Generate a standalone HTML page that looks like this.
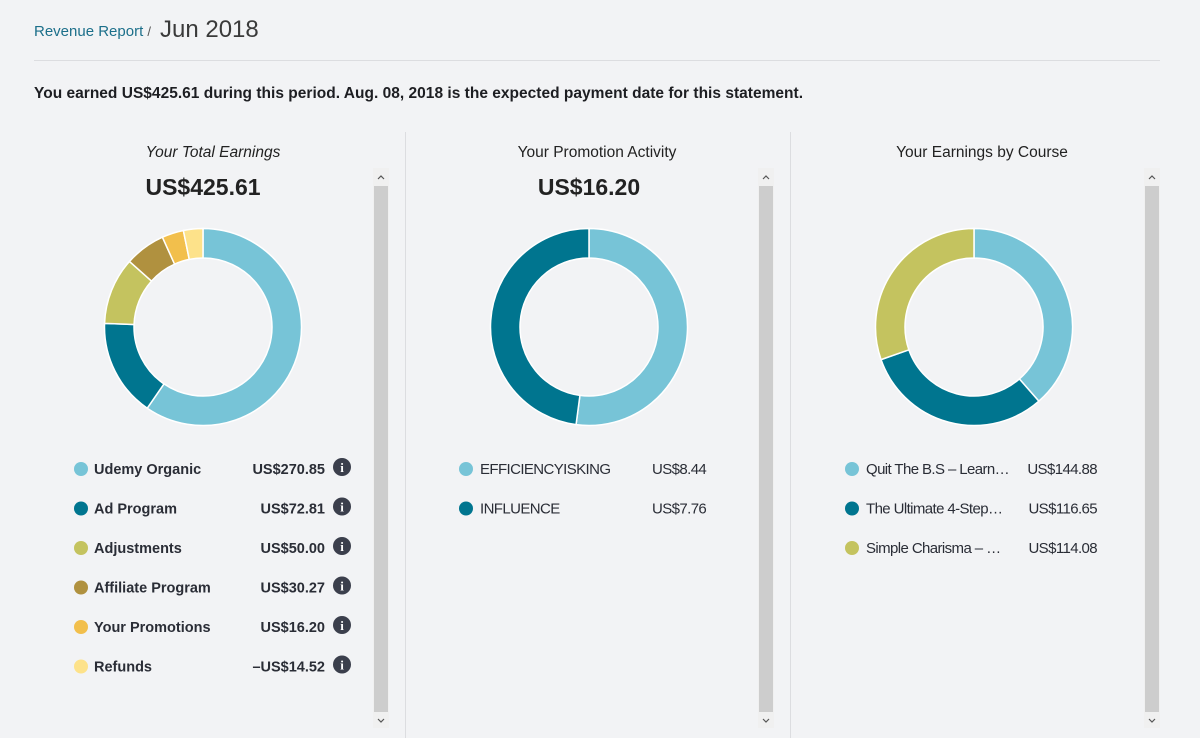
<!DOCTYPE html>
<html><head><meta charset="utf-8"><style>
html,body{margin:0;padding:0;background:#f2f3f5;width:1200px;height:738px;overflow:hidden;font-family:"Liberation Sans","DejaVu Sans",sans-serif;}
svg{display:block}
</style></head><body>
<svg id="s" width="1200" height="738" viewBox="0 0 1200 738">
<text x="34" y="36" font-size="15" fill="#1c6f8a">Revenue Report <tspan fill="#555" font-size="13">/</tspan></text>
<text x="160" y="37" font-size="24" fill="#3a3a3a">Jun 2018</text>
<line x1="34" y1="60.5" x2="1160" y2="60.5" stroke="#dcdde0"/>
<text x="34" y="98" font-size="15.5" font-weight="bold" fill="#1d1e22" textLength="769">You earned US$425.61 during this period. Aug. 08, 2018 is the expected payment date for this statement.</text>
<line x1="405.5" y1="132" x2="405.5" y2="738" stroke="#dcdde0"/>
<line x1="790.5" y1="132" x2="790.5" y2="738" stroke="#dcdde0"/>
<text x="213" y="157" text-anchor="middle" font-size="15.5" font-style="italic" fill="#222">Your Total Earnings</text>
<text x="203" y="195" text-anchor="middle" font-size="23" font-weight="bold" fill="#222">US$425.61</text>
<text x="597" y="157" text-anchor="middle" font-size="15.5" fill="#222">Your Promotion Activity</text>
<text x="589" y="195" text-anchor="middle" font-size="23" font-weight="bold" fill="#222">US$16.20</text>
<text x="982" y="157" text-anchor="middle" font-size="15.5" fill="#222">Your Earnings by Course</text>
<g id="g"></g>
</svg>
<script>
const totalLabels=["Udemy Organic","Ad Program","Adjustments","Affiliate Program","Your Promotions","Refunds"];
const totalValues=[270.85,72.81,50.00,30.27,16.20,14.52];
const totalPrinted=["US$270.85","US$72.81","US$50.00","US$30.27","US$16.20","\u2013US$14.52"];
const promoLabels=["EFFICIENCYISKING","INFLUENCE"];
const promoValues=[8.44,7.76];
const promoPrinted=["US$8.44","US$7.76"];
const courseLabels=["Quit The B.S \u2013 Learn\u2026","The Ultimate 4-Step\u2026","Simple Charisma \u2013 \u2026"];
const courseValues=[144.88,116.65,114.08];
const coursePrinted=["US$144.88","US$116.65","US$114.08"];
const colors6=["#77c4d7","#00758f","#c4c35f","#b0913f","#f2bf4c","#fde28a"];
const colors3=["#77c4d7","#00758f","#c4c35f"];
const NS="http://www.w3.org/2000/svg";
const g=document.getElementById('g');
function mk(t,a,p){const e=document.createElementNS(NS,t);for(const k in a)e.setAttribute(k,a[k]);(p||g).appendChild(e);return e;}
function donut(cx,cy,ro,ri,vals,cols,name){
  const tot=vals.reduce((a,b)=>a+b,0);let a0=0;
  vals.forEach((v,i)=>{
    const a1=a0+v/tot*2*Math.PI;
    const pt=(r,a)=>[cx+r*Math.sin(a),cy-r*Math.cos(a)];
    const [x1,y1]=pt(ro,a0),[x2,y2]=pt(ro,a1),[x3,y3]=pt(ri,a1),[x4,y4]=pt(ri,a0);
    const lg=(a1-a0)>Math.PI?1:0;
    const p=mk('path',{d:`M${x1},${y1}A${ro},${ro} 0 ${lg} 1 ${x2},${y2}L${x3},${y3}A${ri},${ri} 0 ${lg} 0 ${x4},${y4}Z`,fill:cols[i],stroke:"#fff","stroke-width":1.5});
    
    
    a0=a1;
  });
}
donut(203,327,98.5,69,totalValues,colors6,'total-earnings');
donut(589,327,98.5,69,promoValues,colors3,'promotion');
donut(974,327,98.5,69,courseValues,colors3,'course');
function legend(labels,printed,cols,dx,lx,vx,anchor,name,info,narrow){
  labels.forEach((l,i)=>{
    const y=469+i*39.5;
    const c=mk('circle',{cx:dx,cy:y,r:7,fill:cols[i]});
    
    
    const st=narrow?{"font-size":15,"fill":"#2a2d36","letter-spacing":"-0.6"}:{"font-size":14.5,"font-weight":"bold","fill":"#2a2d36"};
    const t=mk('text',Object.assign({x:lx,y:y+5},st));t.textContent=l;
    
    
    const v=mk('text',Object.assign({x:vx,y:y+5,"text-anchor":anchor},st));v.textContent=printed[i];
    
    
    if(info){
      const ic=mk('circle',{cx:342,cy:y-2,r:9,fill:"#3b3f4c"});
      
      
      const it=mk('text',{x:342,y:y+3,"text-anchor":"middle","font-size":13,"font-weight":"bold",fill:"#fff","font-family":"Liberation Serif, serif"});it.textContent='i';
    }
  });
}
legend(totalLabels,totalPrinted,colors6,81,94,325,'end','total-earnings',true,false);
legend(promoLabels,promoPrinted,colors3,466,480,652,'start','promotion',false,true);
legend(courseLabels,coursePrinted,colors3,852,866,1097,'end','course',false,true);
[373,758,1144].forEach((x,i)=>{
  const b=mk('rect',{x:x,y:168,width:16,height:560,fill:"#f0f0f0"});
  
  
  const th=mk('rect',{x:x+1,y:186,width:14,height:526,fill:"#cdcdcd"});
  
  
  mk('path',{d:`M${x+5},${179}l3,-3l3,3`,stroke:"#555",fill:"none","stroke-width":1.2});
  mk('path',{d:`M${x+5},${719}l3,3l3,-3`,stroke:"#555",fill:"none","stroke-width":1.2});
});
</script>
</body></html>
